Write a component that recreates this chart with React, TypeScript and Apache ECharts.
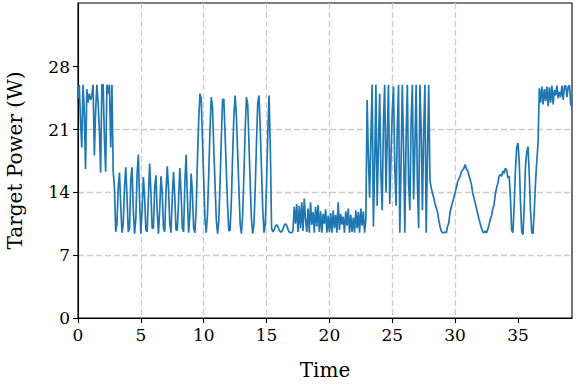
import React, { useEffect, useRef } from "react";
import * as echarts from "echarts";

// sampling step of the recorded signal (seconds)
const DT = 0.1;

// Target power (W), sampled every 0.1 s, split by visual segments
const seg0 = [24.5, 26, 22, 19, 26, 23, 16.6, 25.5, 24, 25, 24.3, 24.8, 26, 18.1, 23, 26, 24, 21, 16.2, 26, 26, 20, 16.3, 26, 25, 26, 19, 26, 16.3, 14.5];
const seg1 = [
  9.6, 10.5, 14.5, 16.2, 12.5, 9.5, 10.5, 14.5, 16.8, 13.5,
  9.6, 10, 15.5, 16.8, 12, 9.4, 11, 16, 18.2, 13,
  9.4, 12, 15.7, 13.5, 9.8, 9.6, 13.5, 17.2, 14, 10,
  10, 14.5, 15.9, 12, 9.4, 12, 15.8, 14, 10, 9.6,
  14, 16.9, 14.5, 10.5, 9.5, 13.5, 16.3, 13.5, 9.8, 9.8,
  13, 16.7, 14, 10, 9.6, 15, 18.2, 13.5, 9.5, 11.5,
  16.1, 14, 10, 9.5, 12, 17.5, 22, 25, 24.5, 20,
];
const seg2 = [
  15.5, 11, 9.5, 11.5, 16, 21, 24.6, 23.5, 19, 15,
  11, 9.4, 10.8, 15, 20, 24.3, 24.4, 20.5, 16.5, 12.5,
  9.7, 9.8, 13, 18, 22.5, 24.8, 22.5, 18.5, 14.5, 10.5,
  9.4, 11.5, 16, 21, 24.6, 23.8, 19.5, 15, 11, 9.4,
  10.5, 14.5, 19.5, 24, 24.8, 21, 16.5, 12, 9.5, 10.5,
  15, 20.5, 24.8, 19, 10,
];
const seg3 = [
  9.6, 9.8, 10.2, 10.4, 10.2, 9.8, 9.6, 9.6, 9.9, 10.3,
  10.5, 10.3, 9.9, 9.6, 9.5, 9.5, 9.7, 12.4, 10.5, 12.7,
  9.6, 12.5, 10, 12.9, 9.7, 13.3, 11, 9.6, 12.2, 9.5,
  12.9, 10.4, 11.8, 9.5, 12.4, 10.2, 12.6, 9.6, 11.9, 9.5,
  11.6, 10.5, 12.1, 9.5, 11.4, 9.6, 11.7, 9.5, 12.0, 10.0,
  11.5, 9.5, 12.9, 9.8, 11.6, 10.4, 11.3, 9.5, 11.9, 10.3,
  12.2, 9.5, 11.5, 9.6, 11.2, 9.5, 12.0, 10.0, 11.8, 9.5,
  12.2, 10.3, 11.9, 9.5, 11,
];
const seg4 = [
  24.3, 18, 13.4, 20, 26, 10.2, 17, 26, 12.5, 19,
  25, 16, 12, 22, 26, 14, 20, 26, 12.7, 18,
  23, 25.8, 17, 12.5, 21, 26, 9.5, 17, 26, 19,
  9.5, 20, 26, 15, 12, 22, 26, 13.2, 19, 26,
  15, 10, 26, 21, 12, 21, 26, 9.5, 18, 26,
];
const seg5 = [
  15.3, 14.5, 13.9, 13.4, 12.7, 12.3, 11.8, 10.9, 10.2, 9.7,
  9.5, 9.5, 9.6, 9.5, 10.2, 10.6, 11.8, 12.4, 12.9, 13.4,
  14.0, 14.5, 15.2, 15.5, 15.8, 16.3, 16.5, 16.7, 17.1, 16.6,
  16.4, 15.9, 15.4, 14.9, 13.9, 13.4, 12.8, 12.2, 11.6, 11.0,
  10.5, 10.0, 9.6, 9.5, 9.7, 9.5, 9.9, 10.4, 11.0, 11.4,
  12.2, 12.6, 13.8, 14.5, 15.0, 15.8, 16.0, 15.8, 16.4, 16.1,
  16.7, 16.5, 15.6, 15.8, 13.5,
];
const seg6 = [9.8, 9.5, 12.5, 16.5, 19.0, 19.5, 17.5, 13.0, 9.6, 9.3, 12.5, 17.0, 18.5, 19.1, 16.0, 12.0, 9.5, 9.4, 12.0, 15.2, 17.5, 19.5];
const seg7 = [25.6, 24.0, 25.8, 23.8, 25.5, 24.2, 25.8, 23.6, 25.7, 24.0, 25.9, 23.8, 25.4, 24.8, 25.9, 24.5, 25.2, 24.6, 25.9, 24.3, 25.8, 25.9, 24.6, 25.8, 25.9, 23.8, 23.5];

// axis ranges and tick labels
const xRange = { min: 0, max: 39.3 };
const yRange = { min: 0, max: 35.1 };
const xTickValues = [0, 5, 10, 15, 20, 25, 30, 35];
const yTickValues = [0, 7, 14, 21, 28];

const FONT = "DejaVu Serif";

export default function App() {
  const ref = useRef<HTMLDivElement>(null);
  useEffect(() => {
    if (!ref.current) return;
    const chart = echarts.init(ref.current, null, { renderer: "svg" });
    const values = [...seg0, ...seg1, ...seg2, ...seg3, ...seg4, ...seg5, ...seg6, ...seg7];
    const data = values.map((v, i) => [Math.round(i * DT * 10) / 10, v]);
    const axisCommon = (ticks: number[]) => ({
      type: "value" as const,
      nameLocation: "middle" as const,
      nameTextStyle: { fontFamily: FONT, fontSize: 20, color: "#000" },
      axisLine: { show: true, onZero: false, lineStyle: { color: "#000", width: 1.1 } },
      axisTick: { show: true, length: 5, customValues: ticks, lineStyle: { color: "#000", width: 1.1 } },
      axisLabel: { fontFamily: FONT, fontSize: 17, color: "#000", margin: 8, customValues: ticks },
      splitLine: { show: true, showMinLine: false, showMaxLine: false, lineStyle: { color: "#cccccc", type: [6, 3], width: 1.3 } },
    });
    chart.setOption({
      animation: false,
      grid: {
        left: 78, top: 3, width: 494, height: 315,
        show: true, borderColor: "#000", borderWidth: 1.1,
        containLabel: false, outerBoundsMode: "none",
      },
      xAxis: {
        ...axisCommon(xTickValues),
        ...xRange,
        name: "Time",
        nameGap: 42,
      },
      yAxis: {
        ...axisCommon(yTickValues),
        ...yRange,
        name: "Target Power (W)",
        nameGap: 53,
      },
      series: [
        {
          type: "line",
          data,
          symbol: "none",
          lineStyle: { color: "#1f77b4", width: 1.7 },
          itemStyle: { color: "#1f77b4" },
        },
      ],
    });
    return () => chart.dispose();
  }, []);
  return <div ref={ref} style={{ position: "fixed", left: 0, top: 0, width: 581, height: 385, background: "#fff" }} />;
}
